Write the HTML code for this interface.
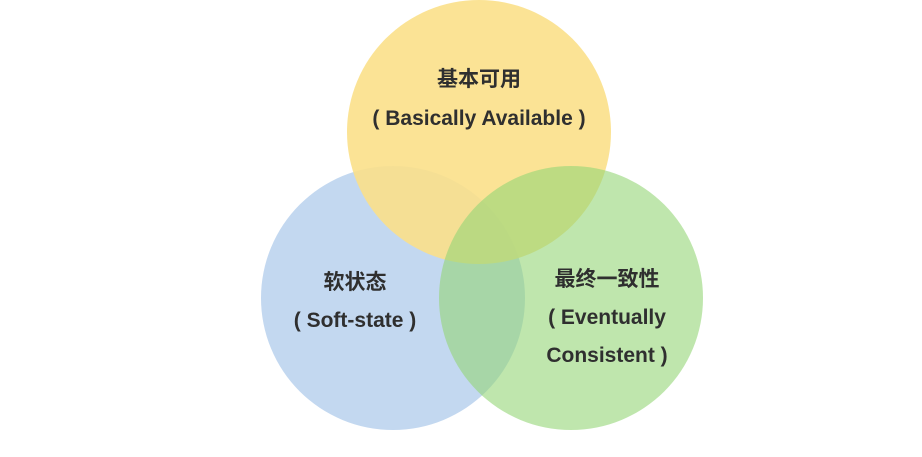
<!DOCTYPE html>
<html><head><meta charset="utf-8"><style>
html,body{margin:0;padding:0;background:#fff;}
svg text{font-family:"Liberation Sans","Noto Sans CJK SC",sans-serif;font-weight:bold;fill:#2f2f2f;font-size:21px;text-anchor:middle;}
</style></head><body>
<svg width="922" height="452" viewBox="0 0 922 452" xmlns="http://www.w3.org/2000/svg">
<rect width="922" height="452" fill="#fff"/>
<circle cx="393" cy="298" r="132" fill="#c3d8f0"/>
<circle cx="479" cy="132" r="132" fill="#fbe08a" fill-opacity="0.9"/>
<circle cx="571" cy="298" r="132" fill="#94d576" fill-opacity="0.6"/>
<text x="479" y="86">基本可用</text>
<text x="479" y="125">( Basically Available )</text>
<text x="355" y="289">软状态</text>
<text x="355" y="327">( Soft-state )</text>
<text x="607" y="286">最终一致性</text>
<text x="607" y="324">( Eventually</text>
<text x="607" y="362">Consistent )</text>
</svg>
</body></html>
